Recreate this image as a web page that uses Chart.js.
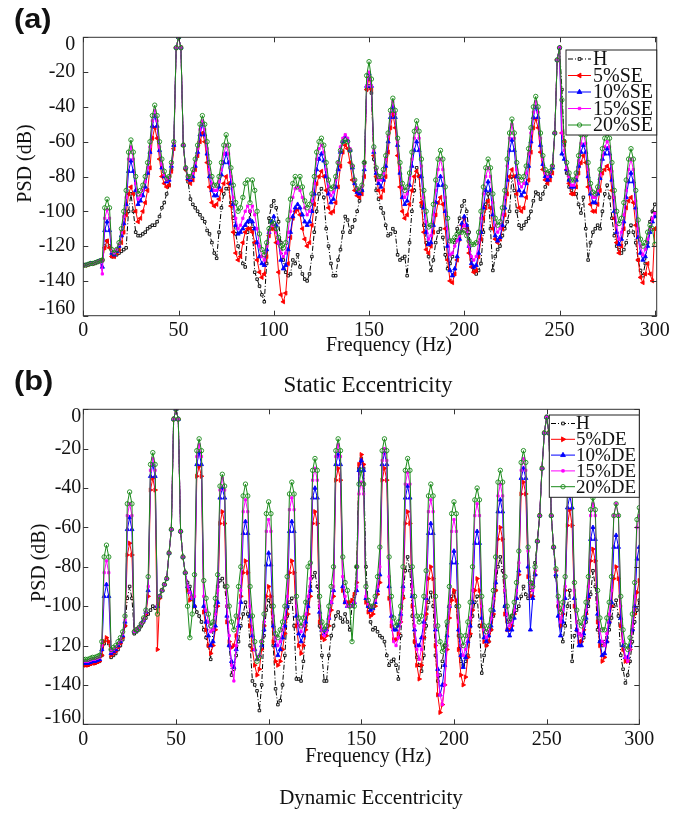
<!DOCTYPE html>
<html><head><meta charset="utf-8">
<script src="https://cdn.jsdelivr.net/npm/chart.js@4.4.1/dist/chart.umd.min.js"></script>
<style>
body{margin:0;background:#fff;width:675px;height:813px;overflow:hidden;position:relative;font-family:'Liberation Serif',serif;}
canvas{position:absolute;left:0;}
#ca{top:0}
#cb{top:390px}
.t{position:absolute;white-space:nowrap;color:#111;}
.pl{font:bold 27px 'Liberation Sans',Arial,sans-serif;transform:scaleX(1.14);transform-origin:left top;}
.cap{transform:translate(-50%,-50%);font-family:'Liberation Serif',serif;}
</style></head><body>
<canvas id="ca" width="675" height="390"></canvas>
<canvas id="cb" width="675" height="423"></canvas>
<div class="t pl" style="left:14px;top:4px">(a)</div>
<div class="t pl" style="left:14px;top:366px">(b)</div>
<div class="t cap" style="left:368px;top:385px;font-size:23px">Static Eccentricity</div>
<div class="t cap" style="left:371px;top:797px;font-size:21px">Dynamic Eccentricity</div>
<script>
// ---------- data ----------
const freq = [
0,1.25,2.5,3.75,5,6.25,7.5,8.75,10,11.25,
12.5,13.75,15,16.25,17.5,18.75,20,21.25,22.5,23.75,
25,26.25,27.5,28.75,30,31.25,32.5,33.75,35,36.25,
37.5,38.75,40,41.25,42.5,43.75,45,46.25,47.5,48.75,
50,51.25,52.5,53.75,55,56.25,57.5,58.75,60,61.25,
62.5,63.75,65,66.25,67.5,68.75,70,71.25,72.5,73.75,
75,76.25,77.5,78.75,80,81.25,82.5,83.75,85,86.25,
87.5,88.75,90,91.25,92.5,93.75,95,96.25,97.5,98.75,
100,101.25,102.5,103.75,105,106.25,107.5,108.75,110,111.25,
112.5,113.75,115,116.25,117.5,118.75,120,121.25,122.5,123.75,
125,126.25,127.5,128.75,130,131.25,132.5,133.75,135,136.25,
137.5,138.75,140,141.25,142.5,143.75,145,146.25,147.5,148.75,
150,151.25,152.5,153.75,155,156.25,157.5,158.75,160,161.25,
162.5,163.75,165,166.25,167.5,168.75,170,171.25,172.5,173.75,
175,176.25,177.5,178.75,180,181.25,182.5,183.75,185,186.25,
187.5,188.75,190,191.25,192.5,193.75,195,196.25,197.5,198.75,
200,201.25,202.5,203.75,205,206.25,207.5,208.75,210,211.25,
212.5,213.75,215,216.25,217.5,218.75,220,221.25,222.5,223.75,
225,226.25,227.5,228.75,230,231.25,232.5,233.75,235,236.25,
237.5,238.75,240,241.25,242.5,243.75,245,246.25,247.5,248.75,
250,251.25,252.5,253.75,255,256.25,257.5,258.75,260,261.25,
262.5,263.75,265,266.25,267.5,268.75,270,271.25,272.5,273.75,
275,276.25,277.5,278.75,280,281.25,282.5,283.75,285,286.25,
287.5,288.75,290,291.25,292.5,293.75,295,296.25,297.5,298.75,
300];

const xTicks = [0,50,100,150,200,250,300];
const yTicks = [-160,-140,-120,-100,-80,-60,-40,-20,0];
const labelsA = ['H','5%SE','10%SE','15%SE','20%SE'];
const labelsB = ['H','5%DE','10%DE','15%DE','20%DE'];

// (a) Static eccentricity
const aH = [
-131,-131,-130.5,-130,-130,-129.5,-129,-128.5,-128,-120,
-117,-120,-126,-126,-125,-124,-123,-122,-121,-100,
-90,-100,-112,-114,-114,-113,-112,-110,-109,-108,
-108,-106,-103,-98,-95,-90,-85,-76,-62,-6,
0,-6,-62,-76,-83,-93,-96,-98,-100,-102,
-104,-106,-111,-113,-118,-124,-127,-112,-98,-90,
-87,-87,-95,-104,-113,-120,-124,-130,-132,-112,
-100,-110,-135,-139,-143,-148,-152,-130,-104,-97,
-94,-98,-106,-118,-128,-135,-137,-136,-128,-130,
-125,-132,-136,-139,-140,-136,-126,-112,-100,-90,
-87,-92,-110,-120,-130,-137,-137,-128,-122,-112,
-103,-105,-112,-109,-105,-100,-94,-88,-72,-30,
-28,-32,-70,-88,-93,-98,-101,-108,-114,-113,
-110,-112,-125,-128,-127,-126,-137,-118,-100,-88,
-75,-80,-97,-108,-118,-126,-134,-128,-118,-112,
-110,-115,-125,-133,-130,-126,-118,-110,-104,-97,
-94,-100,-112,-128,-134,-136,-134,-130,-112,-96,
-90,-110,-134,-126,-122,-120,-114,-110,-106,-100,
-80,-88,-100,-108,-110,-108,-106,-104,-100,-94,
-89,-90,-93,-90,-86,-82,-78,-74,-55,-13,
-6,-30,-62,-78,-86,-88,-90,-90,-96,-101,
-92,-110,-128,-118,-112,-110,-108,-110,-100,-90,
-85,-92,-104,-114,-120,-122,-124,-122,-118,-112,
-108,-112,-118,-128,-134,-137,-130,-118,-106,-100,
-96];
const a5 = [
-131,-131,-130.5,-130,-130,-129.5,-129,-128.5,-128,-121,
-117,-121,-126,-126,-124,-122,-118,-112,-102,-90,
-86,-90,-100,-106,-104,-100,-95,-88,-75,-58,
-52,-58,-70,-80,-84,-86,-85,-77,-64,-6,
0,-6,-62,-76,-82,-84,-82,-76,-68,-60,
-55,-60,-72,-86,-95,-97,-96,-93,-88,-84,
-80,-84,-97,-112,-124,-128,-126,-118,-112,-110,
-110,-112,-118,-128,-135,-138,-136,-126,-114,-110,
-110,-118,-135,-148,-152,-147,-130,-115,-104,-100,
-99,-102,-110,-116,-120,-118,-108,-96,-84,-80,
-77,-80,-88,-98,-101,-100,-95,-86,-74,-66,
-62,-64,-72,-82,-88,-91,-92,-90,-80,-30,
-23,-30,-68,-80,-88,-92,-88,-80,-66,-52,
-44,-52,-68,-86,-100,-104,-102,-96,-88,-80,
-77,-80,-95,-112,-122,-124,-120,-112,-102,-95,
-92,-96,-110,-128,-140,-141,-136,-128,-116,-108,
-104,-110,-124,-132,-135,-134,-126,-116,-104,-98,
-94,-98,-110,-116,-118,-116,-110,-102,-90,-80,
-76,-80,-90,-98,-100,-98,-92,-82,-66,-52,
-47,-52,-66,-76,-82,-84,-82,-78,-55,-13,
-6,-55,-60,-76,-84,-90,-90,-86,-78,-72,
-68,-72,-86,-96,-100,-100,-96,-88,-78,-76,
-74,-76,-88,-104,-118,-124,-120,-110,-98,-94,
-92,-95,-108,-128,-138,-141,-136,-130,-136,-140,
-110];
const a10 = [
-131,-131,-130.5,-130,-130,-129.5,-129,-128.5,-132,-111,
-106,-111,-124,-125,-123,-120,-114,-107,-96,-77,
-71,-77,-88,-96,-94,-91,-86,-78,-66,-51,
-45,-51,-65,-75,-80,-83,-82,-74,-62,-6,
0,-6,-62,-75,-81,-82,-80,-74,-66,-56,
-50,-56,-67,-80,-88,-91,-91,-86,-79,-72,
-67,-72,-84,-96,-108,-113,-112,-110,-108,-106,
-105,-106,-110,-118,-126,-130,-131,-122,-112,-106,
-103,-108,-118,-128,-133,-131,-122,-112,-103,-98,
-96,-98,-102,-106,-108,-106,-100,-90,-76,-70,
-67,-71,-80,-90,-95,-93,-86,-76,-66,-60,
-57,-59,-65,-75,-84,-89,-90,-88,-76,-28,
-21,-28,-66,-78,-84,-86,-82,-74,-60,-46,
-40,-46,-62,-78,-92,-96,-94,-85,-74,-65,
-60,-65,-80,-98,-112,-119,-118,-108,-95,-85,
-80,-85,-100,-120,-134,-137,-133,-126,-116,-107,
-103,-108,-120,-130,-132,-131,-124,-112,-98,-88,
-83,-88,-102,-114,-117,-115,-108,-98,-82,-65,
-59,-65,-80,-88,-91,-89,-84,-74,-60,-46,
-40,-46,-62,-73,-80,-82,-80,-75,-55,-13,
-6,-67,-70,-76,-82,-86,-86,-82,-74,-66,
-62,-66,-80,-90,-95,-95,-90,-81,-70,-67,
-64,-67,-82,-100,-112,-119,-116,-106,-92,-83,
-78,-83,-98,-115,-124,-128,-126,-120,-112,-106,
-103];
const a15 = [
-131,-131,-130.5,-130,-130,-129.5,-129,-128.5,-136,-104,
-99,-104,-123,-124,-122,-119,-112,-103,-92,-70,
-63,-70,-84,-93,-91,-88,-83,-75,-63,-48,
-42,-48,-63,-73,-79,-82,-81,-73,-61,-6,
0,-6,-62,-75,-80,-81,-78,-72,-64,-53,
-48,-53,-64,-76,-84,-88,-88,-83,-76,-67,
-62,-67,-80,-92,-104,-110,-108,-104,-100,-97,
-100,-97,-102,-110,-120,-126,-128,-120,-112,-108,
-108,-112,-118,-124,-126,-124,-112,-100,-92,-87,
-86,-88,-92,-98,-102,-100,-94,-84,-70,-64,
-62,-66,-76,-86,-91,-89,-82,-72,-63,-58,
-56,-58,-64,-74,-82,-87,-88,-86,-74,-28,
-20,-28,-65,-76,-82,-82,-78,-70,-57,-44,
-37,-44,-60,-75,-87,-92,-90,-81,-70,-58,
-52,-58,-74,-92,-106,-116,-114,-102,-88,-76,
-70,-76,-92,-110,-125,-124,-120,-117,-114,-111,
-108,-112,-120,-126,-128,-126,-118,-104,-90,-80,
-75,-80,-95,-108,-112,-110,-102,-92,-74,-58,
-50,-58,-76,-84,-86,-84,-78,-67,-55,-43,
-37,-43,-58,-70,-78,-80,-78,-74,-55,-13,
-6,-55,-65,-75,-80,-85,-85,-80,-71,-61,
-55,-61,-76,-87,-92,-92,-88,-79,-68,-63,
-60,-63,-77,-92,-108,-116,-112,-102,-88,-76,
-70,-76,-94,-110,-120,-125,-122,-116,-110,-104,
-101];
const a20 = [
-131,-131,-130.5,-130,-130,-129.5,-129,-128.5,-128,-98,
-93,-98,-122,-124,-122,-118,-110,-100,-88,-66,
-59,-66,-80,-90,-88,-85,-80,-72,-60,-45,
-39,-45,-60,-70,-77,-81,-80,-72,-60,-6,
0,-6,-62,-75,-80,-80,-76,-70,-62,-50,
-45,-50,-60,-72,-80,-85,-85,-80,-72,-62,
-56,-62,-75,-85,-95,-100,-98,-92,-84,-82,
-95,-82,-88,-100,-113,-122,-125,-118,-110,-106,
-107,-110,-115,-120,-121,-118,-105,-93,-84,-80,
-86,-80,-86,-94,-98,-96,-90,-80,-66,-60,
-58,-62,-72,-82,-87,-86,-80,-72,-65,-60,
-59,-60,-65,-74,-82,-87,-88,-85,-72,-22,
-14,-24,-63,-75,-80,-80,-76,-68,-55,-42,
-35,-42,-58,-72,-84,-88,-86,-78,-66,-54,
-48,-54,-70,-88,-100,-109,-108,-96,-82,-70,
-65,-70,-86,-104,-117,-117,-115,-113,-112,-112,
-111,-114,-117,-119,-119,-118,-112,-100,-86,-75,
-70,-75,-90,-104,-108,-106,-98,-88,-70,-55,
-47,-55,-72,-80,-82,-80,-74,-64,-52,-40,
-34,-40,-55,-68,-76,-78,-77,-74,-55,-13,
-6,-36,-60,-72,-78,-82,-82,-78,-68,-56,
-50,-56,-72,-84,-89,-90,-86,-76,-64,-58,
-55,-58,-72,-88,-100,-107,-104,-95,-82,-70,
-64,-70,-88,-105,-116,-120,-118,-112,-108,-110,
-119];

// (b) Dynamic eccentricity
const bH = [
-130,-130,-130,-129.5,-129,-129,-128.5,-128,-125,-119,
-117,-119,-126,-125,-124,-122,-120,-117,-110,-96,
-90,-96,-114,-113,-112,-110,-108,-106,-104,-102,
-100,-101,-100,-95,-92,-89,-86,-73,-61,-5,
0,-5,-62,-75,-83,-88,-90,-95,-100,-103,
-105,-108,-112,-116,-120,-127,-112,-100,-90,-87,
-86,-90,-100,-120,-135,-132,-125,-118,-110,-104,
-98,-104,-120,-138,-140,-143,-153,-140,-115,-102,
-97,-100,-120,-142,-150,-148,-140,-125,-105,-98,
-96,-110,-137,-137,-138,-128,-110,-98,-90,-85,
-83,-90,-110,-125,-138,-138,-125,-115,-110,-105,
-103,-106,-108,-104,-108,-112,-100,-95,-80,-30,
-25,-30,-80,-100,-108,-112,-111,-113,-115,-116,
-118,-125,-130,-128,-127,-130,-137,-115,-95,-82,
-75,-82,-105,-118,-126,-130,-133,-125,-110,-98,
-93,-100,-125,-138,-135,-128,-120,-110,-100,-95,
-93,-100,-115,-128,-130,-128,-125,-115,-105,-98,
-95,-110,-134,-125,-120,-118,-112,-105,-92,-80,
-75,-82,-100,-108,-108,-105,-103,-102,-100,-95,
-90,-94,-96,-92,-88,-78,-67,-54,-30,-12,
-4,-12,-54,-70,-85,-100,-110,-118,-110,-100,
-92,-128,-115,-112,-114,-118,-116,-108,-100,-94,
-82,-90,-112,-118,-120,-118,-116,-112,-106,-100,
-97,-105,-125,-132,-139,-135,-128,-118,-108,-102,
-97];
const b5 = [
-130,-130,-130,-129.5,-129,-129,-128.5,-128,-125,-118,
-116,-118,-125,-124,-123,-121,-119,-116,-110,-74,
-68,-74,-113,-112,-111,-109,-107,-104,-95,-41,
-35,-41,-122,-96,-92,-89,-86,-73,-61,-5,
0,-5,-62,-75,-83,-92,-97,-96,-100,-34,
-29,-34,-103,-112,-120,-124,-120,-112,-100,-58,
-52,-58,-108,-118,-121,-120,-115,-106,-95,-83,
-77,-83,-110,-122,-130,-135,-132,-122,-110,-95,
-90,-95,-118,-128,-130,-128,-122,-114,-104,-83,
-77,-83,-110,-120,-124,-120,-112,-104,-95,-58,
-52,-58,-108,-116,-117,-115,-110,-102,-95,-36,
-30,-36,-92,-98,-98,-98,-97,-94,-88,-28,
-23,-28,-98,-103,-105,-104,-100,-94,-88,-36,
-30,-36,-96,-110,-117,-117,-114,-108,-96,-58,
-52,-58,-100,-118,-130,-137,-130,-116,-104,-86,
-80,-86,-120,-145,-154,-150,-140,-122,-106,-97,
-92,-97,-122,-135,-140,-136,-126,-114,-102,-92,
-86,-92,-110,-118,-120,-118,-112,-104,-92,-66,
-60,-66,-104,-112,-112,-110,-104,-96,-84,-43,
-37,-43,-85,-95,-95,-84,-67,-54,-30,-12,
-4,-12,-54,-70,-82,-100,-110,-104,-92,-59,
-51,-59,-100,-112,-118,-118,-112,-104,-96,-77,
-71,-77,-108,-120,-128,-126,-118,-108,-100,-86,
-80,-86,-110,-122,-128,-128,-122,-112,-104,-93,
-87];
const b10 = [
-129,-129,-129,-128.5,-128,-128,-127.5,-127,-122,-95,
-89,-95,-124,-123,-122,-120,-118,-115,-108,-61,
-55,-61,-113,-112,-111,-109,-107,-103,-92,-34,
-28,-34,-100,-95,-92,-89,-86,-73,-61,-5,
0,-5,-62,-75,-83,-90,-93,-96,-100,-28,
-22,-28,-100,-108,-115,-120,-118,-110,-98,-45,
-40,-45,-105,-120,-128,-131,-122,-110,-98,-63,
-57,-63,-105,-115,-122,-127,-125,-120,-112,-79,
-73,-79,-110,-120,-125,-122,-116,-110,-100,-62,
-57,-62,-105,-114,-118,-115,-108,-100,-92,-45,
-40,-45,-103,-112,-114,-112,-106,-98,-92,-28,
-23,-28,-90,-98,-100,-100,-100,-98,-92,-31,
-26,-31,-96,-100,-102,-101,-98,-92,-84,-28,
-22,-28,-90,-105,-112,-112,-110,-104,-90,-45,
-39,-45,-95,-112,-120,-120,-116,-108,-96,-63,
-58,-63,-112,-132,-145,-140,-130,-115,-100,-78,
-72,-78,-112,-125,-131,-126,-118,-110,-98,-68,
-62,-68,-106,-116,-118,-115,-110,-102,-88,-52,
-46,-52,-100,-112,-115,-112,-106,-96,-82,-35,
-30,-35,-80,-112,-96,-84,-67,-54,-30,-12,
-4,-12,-54,-70,-84,-105,-115,-108,-96,-50,
-44,-50,-96,-112,-120,-120,-114,-106,-95,-66,
-60,-66,-104,-118,-125,-124,-118,-108,-98,-70,
-64,-70,-106,-120,-126,-126,-120,-112,-100,-76,
-70];
const b15 = [
-128,-128,-128,-127.5,-127,-127,-126.5,-126,-120,-83,
-77,-83,-123,-122,-121,-119,-117,-114,-107,-54,
-48,-54,-113,-112,-111,-109,-107,-103,-90,-31,
-25,-31,-100,-95,-92,-89,-86,-73,-61,-5,
0,-5,-62,-75,-83,-90,-93,-96,-95,-24,
-18,-24,-95,-102,-108,-113,-112,-104,-92,-41,
-35,-41,-100,-115,-130,-138,-120,-105,-92,-52,
-46,-52,-100,-112,-122,-127,-125,-118,-108,-62,
-56,-62,-105,-116,-120,-118,-112,-106,-95,-51,
-45,-51,-100,-110,-113,-110,-104,-95,-86,-36,
-30,-36,-100,-112,-115,-113,-106,-98,-90,-24,
-18,-24,-85,-95,-100,-100,-100,-98,-90,-43,
-37,-43,-95,-99,-100,-100,-97,-90,-80,-26,
-20,-26,-85,-108,-118,-120,-116,-108,-92,-38,
-32,-38,-90,-110,-122,-127,-122,-110,-95,-52,
-46,-52,-110,-135,-145,-150,-140,-120,-100,-62,
-56,-62,-108,-120,-125,-122,-115,-106,-92,-54,
-48,-54,-100,-112,-116,-113,-106,-96,-82,-44,
-38,-44,-92,-104,-110,-108,-102,-92,-78,-31,
-25,-31,-72,-88,-92,-82,-67,-54,-30,-12,
-4,-12,-54,-70,-82,-98,-108,-102,-90,-44,
-38,-44,-92,-108,-114,-115,-110,-102,-90,-54,
-48,-54,-98,-112,-118,-120,-114,-104,-92,-54,
-48,-54,-100,-118,-126,-128,-122,-110,-95,-60,
-54];
const b20 = [
-127,-127,-127,-126.5,-126,-126,-125.5,-125,-118,-75,
-69,-75,-122,-121,-120,-118,-116,-113,-105,-48,
-42,-48,-113,-112,-111,-109,-106,-102,-85,-28,
-22,-28,-104,-95,-92,-89,-86,-73,-61,-5,
0,-5,-62,-75,-83,-100,-116,-104,-84,-21,
-15,-21,-87,-96,-104,-110,-108,-96,-84,-39,
-33,-39,-90,-100,-108,-112,-105,-90,-80,-44,
-38,-44,-90,-105,-118,-128,-126,-118,-104,-53,
-47,-53,-100,-114,-116,-112,-108,-100,-85,-43,
-37,-43,-95,-106,-110,-106,-98,-80,-78,-31,
-25,-31,-95,-108,-112,-110,-100,-90,-80,-21,
-15,-21,-75,-88,-92,-100,-118,-100,-80,-38,
-31,-38,-90,-97,-100,-100,-95,-85,-70,-21,
-15,-21,-75,-95,-106,-110,-108,-100,-80,-31,
-25,-31,-80,-95,-105,-108,-105,-95,-82,-44,
-38,-44,-95,-110,-118,-123,-120,-108,-90,-53,
-47,-53,-100,-115,-120,-115,-108,-98,-80,-46,
-40,-46,-95,-110,-113,-110,-102,-92,-75,-37,
-31,-37,-85,-100,-107,-105,-98,-88,-72,-27,
-21,-27,-70,-88,-90,-80,-67,-54,-30,-12,
-4,-12,-54,-70,-81,-95,-103,-98,-85,-40,
-34,-40,-88,-102,-108,-110,-106,-98,-85,-51,
-45,-51,-92,-106,-112,-112,-106,-98,-85,-54,
-48,-54,-95,-112,-120,-122,-116,-104,-88,-56,
-50];

// ---------- styling ----------
const FONT = "'Liberation Serif','Times New Roman',serif";
const INK = '#111';
const seriesStyle = [
  {color:'#000000', style:'rect', r:1.8, rot:0, fill:'#ffffff', dash:[5,2,1,2], order:5},
  {color:'#ff0000', style:'triangle', r:2.4, rot:-90, fill:'#ff0000', dash:[], order:4},
  {color:'#0000ff', style:'triangle', r:2.4, rot:0, fill:'#0000ff', dash:[], order:3},
  {color:'#ff00ff', style:'rect', r:1.6, rot:0, fill:'#ff00ff', dash:[], order:2},
  {color:'#1a8a1a', style:'circle', r:2.2, rot:0, fill:'rgba(255,255,255,0)', dash:[], order:1}
];

function buildDatasets(labels, arrays, rot5) {
  return arrays.map((arr, k) => {
    const s = seriesStyle[k];
    return {
      label: labels[k],
      data: freq.map((f, i) => ({x: f, y: arr[i]})),
      borderColor: s.color,
      backgroundColor: s.color,
      borderWidth: 1,
      borderDash: s.dash,
      pointStyle: s.style,
      pointRadius: s.r,
      pointRotation: k === 1 ? rot5 : s.rot,
      pointBackgroundColor: s.fill,
      pointBorderColor: s.color,
      pointBorderWidth: 0.9,
      tension: 0,
      order: s.order
    };
  });
}

function drawMarker(ctx, ds, x, y) {
  const r = ds.pointRadius, rot = (ds.pointRotation || 0) * Math.PI / 180;
  ctx.save();
  ctx.translate(x, y); ctx.rotate(rot);
  ctx.beginPath();
  if (ds.pointStyle === 'circle') ctx.arc(0, 0, r, 0, Math.PI * 2);
  else if (ds.pointStyle === 'rect') { const s = r * 0.75; ctx.rect(-s, -s, 2 * s, 2 * s); }
  else { ctx.moveTo(0, -r * 1.15); ctx.lineTo(r * 1.0, r * 0.6); ctx.lineTo(-r * 1.0, r * 0.6); ctx.closePath(); }
  ctx.fillStyle = ds.pointBackgroundColor; ctx.fill();
  ctx.lineWidth = 0.9; ctx.strokeStyle = ds.pointBorderColor; ctx.setLineDash([]); ctx.stroke();
  ctx.restore();
}

const framePlugin = {
  id: 'frame',
  afterDatasetsDraw(chart) {
    const {ctx, chartArea: a, scales: {x, y}} = chart;
    ctx.save();
    ctx.strokeStyle = '#333'; ctx.lineWidth = 1; ctx.setLineDash([]);
    ctx.strokeRect(a.left, a.top, a.right - a.left, a.bottom - a.top);
    const L = 5;
    ctx.beginPath();
    x.ticks.forEach(t => {
      const p = Math.round(x.getPixelForValue(t.value)) + 0.5;
      ctx.moveTo(p, a.bottom); ctx.lineTo(p, a.bottom - L);
      ctx.moveTo(p, a.top); ctx.lineTo(p, a.top + L);
    });
    y.ticks.forEach(t => {
      const p = Math.round(y.getPixelForValue(t.value)) + 0.5;
      ctx.moveTo(a.left, p); ctx.lineTo(a.left + L, p);
      ctx.moveTo(a.right, p); ctx.lineTo(a.right - L, p);
    });
    ctx.stroke();
    ctx.restore();
  }
};

const legendPlugin = {
  id: 'psdLegend',
  afterDraw(chart, args, o) {
    const ctx = chart.ctx;
    ctx.save();
    ctx.fillStyle = '#fff';
    ctx.fillRect(o.box[0], o.box[1], o.box[2] - o.box[0], o.box[3] - o.box[1]);
    ctx.strokeStyle = '#222'; ctx.lineWidth = 1; ctx.setLineDash([]);
    ctx.strokeRect(o.box[0], o.box[1], o.box[2] - o.box[0], o.box[3] - o.box[1]);
    chart.data.datasets.forEach((ds, k) => {
      const yy = o.top + k * o.step;
      ctx.beginPath();
      ctx.setLineDash(ds.borderDash || []);
      ctx.strokeStyle = ds.borderColor; ctx.lineWidth = 1;
      ctx.moveTo(o.line[0], yy); ctx.lineTo(o.line[1], yy); ctx.stroke();
      ctx.setLineDash([]);
      drawMarker(ctx, ds, (o.line[0] + o.line[1]) / 2, yy);
      ctx.fillStyle = INK;
      ctx.font = o.fontSize + 'px ' + FONT;
      ctx.textBaseline = 'middle'; ctx.textAlign = 'left';
      ctx.fillText(ds.label, o.textX, yy + 1);
    });
    ctx.restore();
  }
};

// nudges axis titles and end tick labels to where the reference places them
const nudgePlugin = {
  id: 'nudge',
  afterLayout(chart, args, o) {
    const sx = chart.scales.x, sy = chart.scales.y;
    if (!sx.__nudged) {
      const fx = sx.drawTitle;
      sx.drawTitle = function () { this.ctx.save(); this.ctx.translate(o.xTitleDx, 0); fx.apply(this, arguments); this.ctx.restore(); };
      sx.__nudged = true;
    }
    if (!sy.__nudged) {
      const fy = sy.drawTitle;
      sy.drawTitle = function () { this.ctx.save(); this.ctx.translate(0, o.yTitleDy); fy.apply(this, arguments); this.ctx.restore(); };
      const gl = sy.getLabelItems;
      sy.getLabelItems = function (ca) {
        const items = gl.call(this, ca);
        items.forEach((it, i) => {
          if (it.__n || !it.options || !it.options.translation || !this.ticks[i]) return;
          const v = this.ticks[i].value;
          if (v === this.max) it.options.translation[1] += o.endShift;
          if (v === this.min) it.options.translation[1] -= o.endShift;
          it.__n = true;
        });
        return items;
      };
      sy.__nudged = true;
    }
  }
};

function makeOptions(p) {
  return {
    responsive: false, animation: false, devicePixelRatio: 1,
    layout: {padding: p.pad},
    plugins: {
      legend: {display: false}, tooltip: {enabled: false},
      psdLegend: p.legend,
      nudge: p.nudge
    },
    scales: {
      x: {
        type: 'linear', min: 0, max: p.xmax,
        afterBuildTicks: s => { s.ticks = xTicks.map(v => ({value: v})); },
        afterFit: s => { s.height = 50; },
        grid: {display: false, drawTicks: false},
        border: {display: false},
        ticks: {padding: 3, color: INK, font: {family: FONT, size: 20}, maxRotation: 0, autoSkip: false},
        title: {display: true, text: 'Frequency (Hz)', color: INK, font: {family: FONT, size: 20}, padding: {top: 0, bottom: p.xtPad}}
      },
      y: {
        type: 'linear', min: -160, max: 0,
        afterBuildTicks: s => { s.ticks = yTicks.map(v => ({value: v})); },
        afterFit: s => { s.width = 83.3; },
        grid: {display: false, drawTicks: false},
        border: {display: false},
        ticks: {padding: p.ytickPad, color: INK, font: {family: FONT, size: 20}, autoSkip: false},
        title: {display: true, text: 'PSD (dB)', color: INK, font: {family: FONT, size: 20}, padding: {top: p.ytPad, bottom: 0}}
      }
    }
  };
}

new Chart(document.getElementById('ca'), {
  type: 'line',
  data: {datasets: buildDatasets(labelsA, [aH, a5, a10, a15, a20], -90)},
  options: makeOptions({
    pad: {left: 0, right: 18.3, top: 37.3, bottom: 24.3},
    xmax: 301, xtPad: 7.7, ytickPad: 8, ytPad: 14,
    legend: {box: [566, 50, 656.7, 135], top: 59, step: 16.5, line: [568, 591], textX: 593, fontSize: 20},
    nudge: {xTitleDx: 19, yTitleDy: -13, endShift: 7}
  }),
  plugins: [framePlugin, legendPlugin, nudgePlugin]
});

new Chart(document.getElementById('cb'), {
  type: 'line',
  data: {datasets: buildDatasets(labelsB, [bH, b5, b10, b15, b20], 90)},
  options: makeOptions({
    pad: {left: 0, right: 35.7, top: 19.3, bottom: 38.7},
    xmax: 300, xtPad: 5.3, ytickPad: 2, ytPad: 28,
    legend: {box: [549.3, 25, 639.3, 107.3], top: 33.5, step: 15.8, line: [551, 575], textX: 576, fontSize: 19},
    nudge: {xTitleDx: 7, yTitleDy: -4, endShift: 7}
  }),
  plugins: [framePlugin, legendPlugin, nudgePlugin]
});
</script>
</body></html>
